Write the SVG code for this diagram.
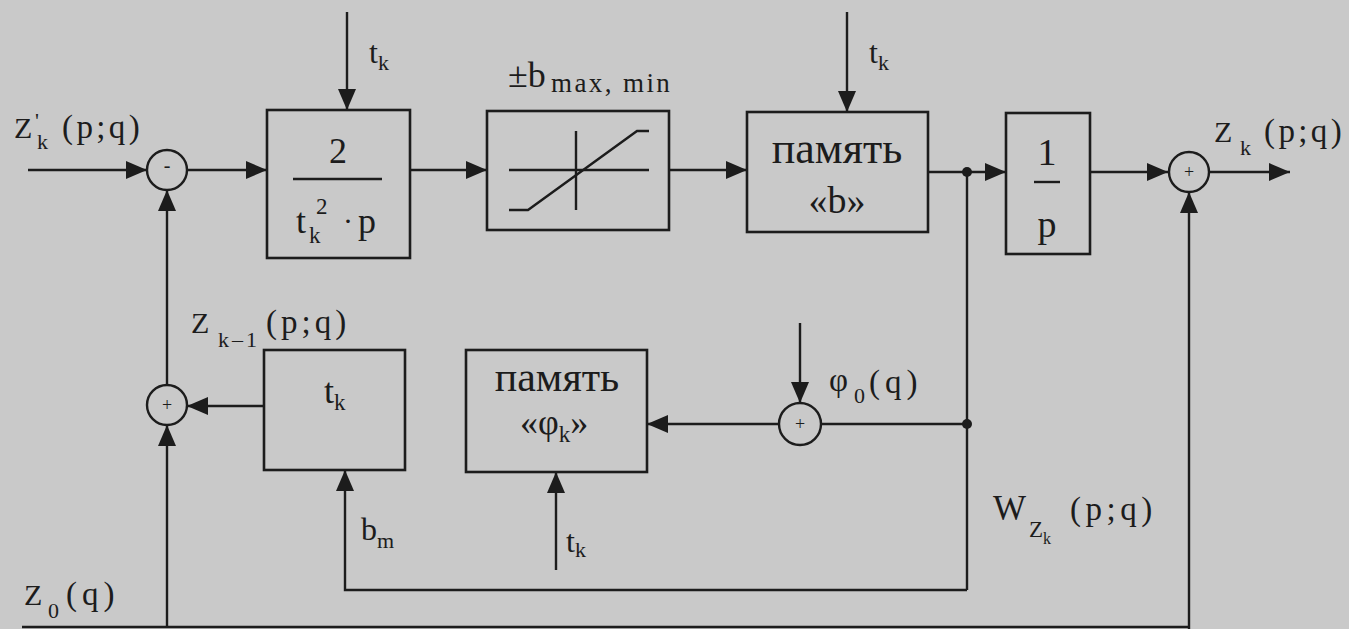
<svg xmlns="http://www.w3.org/2000/svg" width="1349" height="629" viewBox="0 0 1349 629">
<style>
.ln{fill:none;stroke:#1c1c1c;stroke-width:2.4}
.blk{fill:none;stroke:#1c1c1c;stroke-width:2.6}
.dot{fill:#1c1c1c}
</style>
<defs>
<marker id="ar" markerUnits="userSpaceOnUse" markerWidth="22" markerHeight="20" viewBox="0 0 22 20" refX="21" refY="10" orient="auto">
<path d="M0,1 L21,10 L0,19 Z" fill="#1c1c1c"/>
</marker>
</defs>
<rect x="0" y="0" width="1349" height="629" fill="#c9c9c9"/>

<g id="connectors">
<line class="ln" x1="28" y1="170" x2="147" y2="170" marker-end="url(#ar)"/>
<line class="ln" x1="188" y1="170" x2="267" y2="170" marker-end="url(#ar)"/>
<line class="ln" x1="347" y1="12" x2="347" y2="110" marker-end="url(#ar)"/>
<line class="ln" x1="410" y1="170" x2="487" y2="170" marker-end="url(#ar)"/>
<line class="ln" x1="669" y1="170" x2="747" y2="170" marker-end="url(#ar)"/>
<line class="ln" x1="847" y1="12" x2="847" y2="112" marker-end="url(#ar)"/>
<line class="ln" x1="928" y1="172" x2="1006" y2="172" marker-end="url(#ar)"/>
<line class="ln" x1="1090" y1="172" x2="1168" y2="172" marker-end="url(#ar)"/>
<line class="ln" x1="1209" y1="172" x2="1290" y2="172" marker-end="url(#ar)"/>
<line class="ln" x1="1189" y1="629" x2="1189" y2="192" marker-end="url(#ar)"/>
<line class="ln" x1="22" y1="627" x2="1189" y2="627"/>
<line class="ln" x1="167" y1="627" x2="167" y2="425" marker-end="url(#ar)"/>
<line class="ln" x1="167" y1="385" x2="167" y2="190" marker-end="url(#ar)"/>
<line class="ln" x1="264" y1="406" x2="187" y2="406" marker-end="url(#ar)"/>
<line class="ln" x1="967" y1="172" x2="967" y2="590"/>
<polyline class="ln" points="967,590 345,590 345,470" marker-end="url(#ar)"/>
<line class="ln" x1="967" y1="424" x2="821" y2="424"/>
<line class="ln" x1="779" y1="424" x2="647" y2="424" marker-end="url(#ar)"/>
<line class="ln" x1="800" y1="323" x2="800" y2="403" marker-end="url(#ar)"/>
<line class="ln" x1="556" y1="570" x2="556" y2="472" marker-end="url(#ar)"/>
<circle class="dot" cx="967" cy="172" r="5"/>
<circle class="dot" cx="967" cy="424" r="5"/>
</g>

<g id="sum1">
<circle class="ln" cx="167" cy="170" r="20"/>
<text font-family="Liberation Serif" font-size="20" x="167" y="172" text-anchor="middle" fill="#1c1c1c">-</text>
</g>
<g id="sum2">
<circle class="ln" cx="167" cy="405" r="20"/>
<text font-family="Liberation Serif" font-size="18" x="167" y="411" text-anchor="middle" fill="#1c1c1c">+</text>
</g>
<g id="sum3">
<circle class="ln" cx="800" cy="424" r="21"/>
<text font-family="Liberation Serif" font-size="18" x="800" y="430" text-anchor="middle" fill="#1c1c1c">+</text>
</g>
<g id="sum4">
<circle class="ln" cx="1189" cy="172" r="20"/>
<text font-family="Liberation Serif" font-size="18" x="1189" y="178" text-anchor="middle" fill="#1c1c1c">+</text>
</g>

<g id="block1">
<rect class="blk" x="267" y="110" width="143" height="148"/>
<text font-family="Liberation Serif" x="338" y="163" font-size="36" text-anchor="middle" fill="#1c1c1c">2</text>
<line class="ln" x1="293" y1="179" x2="382" y2="179"/>
<text font-family="Liberation Serif" x="296" y="233" font-size="36" fill="#1c1c1c">t</text>
<text font-family="Liberation Serif" x="316" y="214" font-size="23" fill="#1c1c1c">2</text>
<text font-family="Liberation Serif" x="309" y="243" font-size="23" fill="#1c1c1c">k</text>
<text font-family="Liberation Serif" x="343" y="231" font-size="30" fill="#1c1c1c">·</text>
<text font-family="Liberation Serif" x="358" y="233" font-size="36" fill="#1c1c1c">p</text>
</g>

<g id="block2">
<rect class="blk" x="487" y="111" width="182" height="119"/>
<line class="ln" x1="509" y1="170" x2="649" y2="170"/>
<line class="ln" x1="576" y1="131" x2="576" y2="210"/>
<polyline class="ln" points="509,210 528,210 637,131 649,131"/>
<text font-family="Liberation Serif" x="508" y="87" font-size="36" fill="#1c1c1c">±b</text>
<text font-family="Liberation Serif" x="551" y="92" font-size="27" letter-spacing="2.4" fill="#1c1c1c">max, min</text>
</g>

<g id="block3">
<rect class="blk" x="747" y="112" width="181" height="120"/>
<text font-family="Liberation Serif" x="837" y="163" font-size="44" text-anchor="middle" fill="#1c1c1c">память</text>
<text font-family="Liberation Serif" x="837" y="213" font-size="38" text-anchor="middle" fill="#1c1c1c">«b»</text>
</g>

<g id="block4">
<rect class="blk" x="1006" y="113" width="84" height="141"/>
<text font-family="Liberation Serif" x="1047" y="165" font-size="38" text-anchor="middle" fill="#1c1c1c">1</text>
<line class="ln" x1="1034" y1="182" x2="1060" y2="182"/>
<text font-family="Liberation Serif" x="1047" y="237" font-size="38" text-anchor="middle" fill="#1c1c1c">p</text>
</g>

<g id="block5">
<rect class="blk" x="264" y="350" width="141" height="120"/>
<text font-family="Liberation Serif" x="324" y="403" font-size="36" fill="#1c1c1c">t<tspan font-size="23" dy="7">k</tspan></text>
</g>

<g id="block6">
<rect class="blk" x="466" y="350" width="181" height="122"/>
<text font-family="Liberation Serif" x="557" y="391" font-size="42" text-anchor="middle" fill="#1c1c1c">память</text>
<text font-family="Liberation Serif" x="520" y="434" font-size="36" fill="#1c1c1c">«φ<tspan font-size="23" dy="8">k</tspan><tspan dy="-8">»</tspan></text>
</g>

<g id="labels">
<text font-family="Liberation Serif" x="14" y="138" font-size="30" fill="#1c1c1c">Z</text>
<text font-family="Liberation Serif" x="35" y="128" font-size="22" fill="#1c1c1c">'</text>
<text font-family="Liberation Serif" x="37" y="149" font-size="22" fill="#1c1c1c">k</text>
<text font-family="Liberation Serif" x="62" y="138" font-size="33" letter-spacing="3.4" fill="#1c1c1c">(p;q)</text>

<text font-family="Liberation Serif" x="369" y="63" font-size="32" fill="#1c1c1c">t<tspan font-size="22" dy="7">k</tspan></text>
<text font-family="Liberation Serif" x="869" y="63" font-size="32" fill="#1c1c1c">t<tspan font-size="22" dy="7">k</tspan></text>

<text font-family="Liberation Serif" x="1214" y="142" font-size="30" fill="#1c1c1c">Z</text>
<text font-family="Liberation Serif" x="1240" y="155" font-size="22" fill="#1c1c1c">k</text>
<text font-family="Liberation Serif" x="1264" y="142" font-size="33" letter-spacing="3.4" fill="#1c1c1c">(p;q)</text>

<text font-family="Liberation Serif" x="191" y="333" font-size="30" fill="#1c1c1c">Z</text>
<text font-family="Liberation Serif" x="218" y="347" font-size="22" letter-spacing="3" fill="#1c1c1c">k–1</text>
<text font-family="Liberation Serif" x="266" y="333" font-size="33" letter-spacing="4" fill="#1c1c1c">(p;q)</text>

<text font-family="Liberation Serif" x="829" y="391" font-size="33" fill="#1c1c1c">φ</text>
<text font-family="Liberation Serif" x="854" y="403" font-size="22" fill="#1c1c1c">0</text>
<text font-family="Liberation Serif" x="869" y="393" font-size="33" letter-spacing="5" fill="#1c1c1c">(q)</text>

<text font-family="Liberation Serif" x="993" y="520" font-size="35" fill="#1c1c1c">W</text>
<text font-family="Liberation Serif" x="1029" y="537" font-size="23" fill="#1c1c1c">Z<tspan font-size="16" dy="7">k</tspan></text>
<text font-family="Liberation Serif" x="1070" y="520" font-size="33" letter-spacing="4.5" fill="#1c1c1c">(p;q)</text>

<text font-family="Liberation Serif" x="361" y="540" font-size="32" fill="#1c1c1c">b<tspan font-size="22" dy="8">m</tspan></text>

<text font-family="Liberation Serif" x="566" y="552" font-size="32" fill="#1c1c1c">t<tspan font-size="22" dy="5">k</tspan></text>

<text font-family="Liberation Serif" x="24" y="605" font-size="30" fill="#1c1c1c">Z</text>
<text font-family="Liberation Serif" x="48" y="618" font-size="22" fill="#1c1c1c">0</text>
<text font-family="Liberation Serif" x="66" y="605" font-size="33" letter-spacing="5" fill="#1c1c1c">(q)</text>
</g>
</svg>
